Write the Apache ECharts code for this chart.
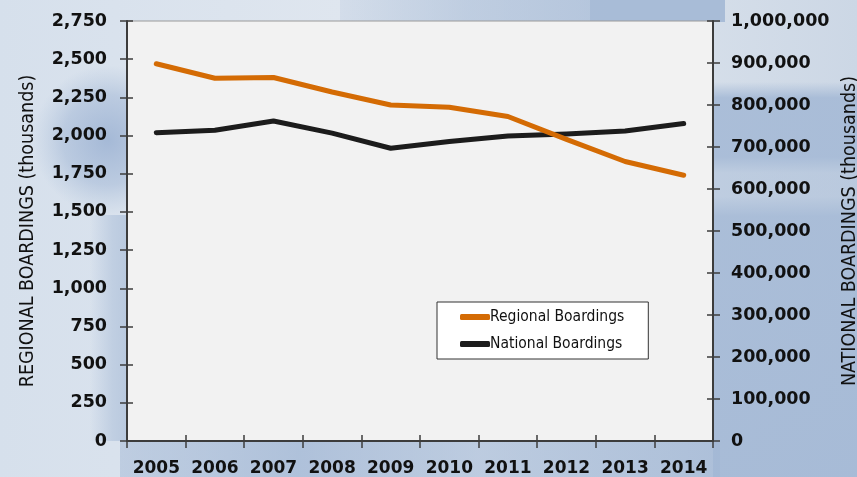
<!DOCTYPE html>
<html>
<head>
<meta charset="utf-8">
<script src="https://cdn.jsdelivr.net/npm/echarts@6/dist/echarts.min.js"></script>
<style>
  html, body { margin: 0; padding: 0; }
  #chart { width: 857px; height: 477px; }
</style>
</head>
<body>
<div id="chart"></div>
<script>
// Annual boardings, in thousands
const years = ['2005', '2006', '2007', '2008', '2009', '2010', '2011', '2012', '2013', '2014'];
const regionalBoardings = [2470, 2375, 2380, 2285, 2200, 2185, 2125, 1975, 1830, 1740];
const nationalBoardings = [734000, 740000, 762000, 733000, 697000, 713000, 726000, 731000, 738000, 756000];

// Axis tick values
const regionalTicks = [0, 250, 500, 750, 1000, 1250, 1500, 1750, 2000, 2250, 2500, 2750];
const nationalTicks = [0, 100000, 200000, 300000, 400000, 500000, 600000, 700000, 800000, 900000, 1000000];

const regionalName = 'REGIONAL BOARDINGS (thousands)';
const nationalName = 'NATIONAL BOARDINGS (thousands)';
const seriesNames = ['Regional Boardings', 'National Boardings'];

const ORANGE = '#d46b04';
const BLACK = '#1c1c1c';
const AXIS = '#3c3c3c';
const tickFont = '"DejaVu Sans", sans-serif';
const narrowFont = '"Liberation Sans Narrow", "DejaVu Sans Condensed", sans-serif';

const fmt = v => Number(v).toLocaleString('en-US');

function span(ticks) {
  return { min: ticks[0], max: ticks[ticks.length - 1], interval: ticks[1] - ticks[0] };
}
const rs = span(regionalTicks);
const ns = span(nationalTicks);

const chart = echarts.init(document.getElementById('chart'), null, { renderer: 'canvas' });

// Soft, washed-out blue backdrop behind the plot
function panel(x, y, w, h, fill) {
  return { type: 'rect', silent: true, z: -15, shape: { x: x, y: y, width: w, height: h }, style: { fill: fill } };
}
function fade(vertical, stops) {
  return new echarts.graphic.LinearGradient(0, 0, vertical ? 0 : 1, vertical ? 1 : 0,
    stops.map(s => ({ offset: s[0], color: s[1] })));
}
function blob(cx, cy, rx, ry, color) {
  return {
    type: 'ellipse', silent: true, z: -14,
    shape: { cx: cx, cy: cy, rx: rx, ry: ry },
    style: {
      fill: new echarts.graphic.RadialGradient(0.5, 0.5, 0.5, [
        { offset: 0, color: color },
        { offset: 0.6, color: color.replace(/[\d.]+\)$/, '0.45)') },
        { offset: 1, color: 'rgba(165,186,214,0)' }
      ])
    }
  };
}

const BLUE = a => 'rgba(163,184,213,' + a + ')';

const backdrop = [
  { type: 'rect', silent: true, z: -20, shape: { x: 0, y: 0, width: 857, height: 477 },
    style: { fill: fade(false, [[0, '#d6e0ec'], [0.4, '#dfe6ef'], [0.8, '#d6dfea'], [1, '#ccd7e5']]) } },
  panel(340, 0, 250, 22, fade(false, [[0, BLUE(0.2)], [0.5, BLUE(0.5)], [1, BLUE(0.65)]])),
  panel(590, 0, 135, 22, BLUE(0.9)),
  panel(713, 82, 144, 395, fade(true, [[0, BLUE(0)], [0.04, BLUE(0.85)], [0.19, BLUE(0.85)],
    [0.23, BLUE(0.45)], [0.29, BLUE(0.45)], [0.34, BLUE(0.85)], [1, BLUE(0.9)]])),
  panel(120, 441, 600, 36, fade(false, [[0, BLUE(0.5)], [0.3, BLUE(0.8)], [0.6, BLUE(0.55)], [1, BLUE(0.8)]])),
  blob(108, 140, 75, 90, 'rgba(152,175,209,0.8)'),
  panel(90, 215, 37, 226, fade(false, [[0, BLUE(0)], [0.6, BLUE(0.45)], [1, BLUE(0.6)]]))
];

const hiddenAxisBits = {
  axisLine: { show: false },
  axisLabel: { show: false },
  splitLine: { show: false }
};

chart.setOption({
  animation: false,
  backgroundColor: '#dfe6ef',
  graphic: backdrop,
  grid: {
    left: 127, right: 144, top: 21, bottom: 36,
    outerBoundsMode: 'none', containLabel: false,
    show: true, backgroundColor: '#f2f2f2', borderColor: '#9a9a9a', borderWidth: 1
  },
  legend: {
    orient: 'vertical',
    left: 437, top: 302,
    padding: [5, 24, 5, 23],
    itemGap: 7,
    itemWidth: 30, itemHeight: 6,
    backgroundColor: '#ffffff',
    borderColor: '#333333', borderWidth: 1,
    textStyle: { fontFamily: narrowFont, fontSize: 15.5, color: '#111', lineHeight: 20, padding: [0, 0, 0, -5] },
    data: [
      { name: seriesNames[0], icon: 'roundRect', itemStyle: { color: ORANGE } },
      { name: seriesNames[1], icon: 'roundRect', itemStyle: { color: BLACK } }
    ]
  },
  xAxis: [
    {
      type: 'category', data: years, boundaryGap: true,
      axisLine: { lineStyle: { color: AXIS, width: 2 } },
      axisTick: { show: true, length: 7, lineStyle: { color: AXIS, width: 1.5 } },
      axisLabel: { interval: 0, color: '#111', fontFamily: tickFont, fontWeight: 'bold', fontSize: 17, margin: 19 },
      splitLine: { show: false }
    },
    Object.assign({
      type: 'category', data: years, boundaryGap: true, position: 'bottom',
      axisTick: { show: true, inside: true, length: 6, lineStyle: { color: AXIS, width: 1.5 } }
    }, hiddenAxisBits)
  ],
  yAxis: [
    {
      type: 'value', position: 'left', min: rs.min, max: rs.max, interval: rs.interval,
      name: regionalName, nameLocation: 'middle', nameRotate: 90, nameGap: 89,
      nameTextStyle: { fontFamily: narrowFont, fontSize: 19.5, color: '#111' },
      axisLine: { show: true, lineStyle: { color: AXIS, width: 2 } },
      axisTick: { show: true, length: 7, lineStyle: { color: AXIS, width: 1.5 } },
      axisLabel: { color: '#111', fontFamily: tickFont, fontWeight: 'bold', fontSize: 17.5, margin: 20, formatter: fmt },
      splitLine: { show: false }
    },
    {
      type: 'value', position: 'right', min: ns.min, max: ns.max, interval: ns.interval,
      name: nationalName, nameLocation: 'middle', nameRotate: 90, nameGap: 126,
      nameTextStyle: { fontFamily: narrowFont, fontSize: 19.5, color: '#111' },
      axisLine: { show: true, lineStyle: { color: AXIS, width: 2 } },
      axisTick: { show: true, length: 7, lineStyle: { color: AXIS, width: 1.5 } },
      axisLabel: { color: '#111', fontFamily: tickFont, fontWeight: 'bold', fontSize: 17.5, margin: 18, formatter: fmt },
      splitLine: { show: false }
    },
    Object.assign({
      type: 'value', position: 'left', min: rs.min, max: rs.max, interval: rs.interval,
      axisTick: { show: true, inside: true, length: 6, lineStyle: { color: AXIS, width: 1.5 } }
    }, hiddenAxisBits),
    Object.assign({
      type: 'value', position: 'right', min: ns.min, max: ns.max, interval: ns.interval,
      axisTick: { show: true, inside: true, length: 6, lineStyle: { color: AXIS, width: 1.5 } }
    }, hiddenAxisBits)
  ],
  series: [
    {
      name: seriesNames[0], type: 'line', yAxisIndex: 0, data: regionalBoardings,
      showSymbol: false, symbol: 'none', z: 3,
      lineStyle: { color: ORANGE, width: 5, cap: 'round', join: 'round' },
      itemStyle: { color: ORANGE }
    },
    {
      name: seriesNames[1], type: 'line', yAxisIndex: 1, data: nationalBoardings,
      showSymbol: false, symbol: 'none', z: 2,
      lineStyle: { color: BLACK, width: 5, cap: 'round', join: 'round' },
      itemStyle: { color: BLACK }
    }
  ]
});
</script>
</body>
</html>
